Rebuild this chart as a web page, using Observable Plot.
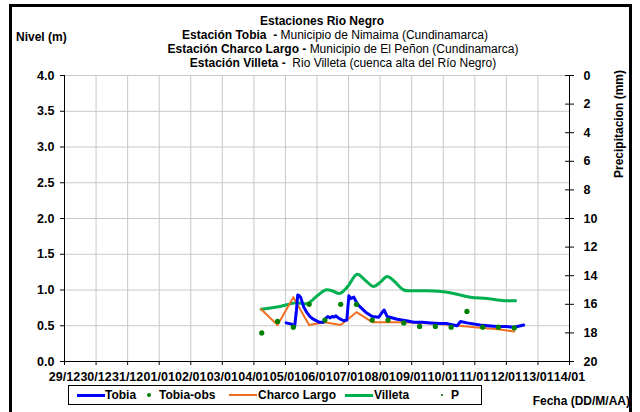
<!DOCTYPE html>
<html>
<head>
<meta charset="utf-8">
<script src="https://cdn.jsdelivr.net/npm/d3@7"></script>
<script src="https://cdn.jsdelivr.net/npm/@observablehq/plot@0.6"></script>
<style>
  html, body { margin: 0; padding: 0; background: #fff; overflow: hidden; }
  #wrap { position: relative; width: 640px; height: 412px; overflow: hidden; font-family: "Liberation Sans", Arial, sans-serif; color: #000; }
  #frame { position: absolute; left: 9px; top: 4px; width: 623px; height: 420px; border: 3px solid #000; box-sizing: border-box; pointer-events: none; }
  .t { position: absolute; white-space: nowrap; font-size: 12px; line-height: 14px; }
  .b { font-weight: bold; }
  #chart { position: absolute; left: 0; top: 0; }
  #legend { position: absolute; left: 68px; top: 385px; width: 414px; height: 20px; border: 1px solid #000; box-sizing: border-box; background: #fff; }
  .li { position: absolute; top: 2px; font-size: 12px; font-weight: bold; line-height: 14px; white-space: nowrap; }
  .ln { position: absolute; top: 8px; width: 28px; height: 3px; }
  .dot { position: absolute; border-radius: 50%; background: #008000; }
</style>
</head>
<body>
<div id="wrap">
  <div id="chart"></div>
  <div class="t b" style="left:0;width:644px;text-align:center;top:14px;">Estaciones Rio Negro</div>
  <div class="t" style="left:0;width:670px;text-align:center;top:28px;"><span class="b">Estación Tobia&nbsp; - </span>Municipio de Nimaima (Cundinamarca)</div>
  <div class="t" style="left:0;width:686px;text-align:center;top:42px;"><span class="b">Estación Charco Largo - </span>Municipio de El Peñon (Cundinamarca)</div>
  <div class="t" style="left:0;width:686px;text-align:center;top:56px;"><span class="b">Estación Villeta - </span>&nbsp;Rio Villeta (cuenca alta del Río Negro)</div>
  <div class="t b" style="left:16px;top:30px;">Nivel (m)</div>
  <div class="t b" style="right:10px;top:394px;">Fecha (DD/M/AA)</div>
  <div class="t b" style="left:619px;top:124px;transform:translate(-50%,-50%) rotate(-90deg);">Precipitacion (mm)</div>
  <div id="legend">
    <div class="ln" style="left:8px;background:#0000ff;"></div>
    <div class="li" style="left:36px;">Tobia</div>
    <div class="dot" style="left:78px;top:7px;width:4px;height:4px;"></div>
    <div class="li" style="left:90px;">Tobia-obs</div>
    <div class="ln" style="left:160px;background:#f07020;height:2px;"></div>
    <div class="li" style="left:189px;">Charco Largo</div>
    <div class="ln" style="left:276px;background:#00b050;"></div>
    <div class="li" style="left:305px;">Villeta</div>
    <div class="dot" style="left:372px;top:8px;width:2px;height:2px;background:#006000;"></div>
    <div class="li" style="left:382px;">P</div>
  </div>
  <div id="frame"></div>
</div>
<script>
// ---------------- data ----------------
const tobiaTime = ["2012-01-05T00:30","2012-01-05T03:00","2012-01-05T05:00","2012-01-05T07:00","2012-01-05T08:20","2012-01-05T09:20","2012-01-05T10:30","2012-01-05T11:30","2012-01-05T14:00","2012-01-05T16:30","2012-01-05T18:30","2012-01-05T20:30","2012-01-06T01:30","2012-01-06T05:00","2012-01-06T06:30","2012-01-06T08:10","2012-01-06T10:00","2012-01-06T11:30","2012-01-06T13:00","2012-01-06T14:10","2012-01-06T17:00","2012-01-06T20:20","2012-01-06T22:40","2012-01-07T00:15","2012-01-07T01:30","2012-01-07T02:40","2012-01-07T04:00","2012-01-07T06:30","2012-01-07T09:00","2012-01-07T13:00","2012-01-07T18:00","2012-01-07T23:00","2012-01-08T01:40","2012-01-08T03:00","2012-01-08T05:20","2012-01-08T13:00","2012-01-08T20:00","2012-01-09T01:40","2012-01-09T08:00","2012-01-09T14:30","2012-01-09T21:00","2012-01-10T03:00","2012-01-10T10:30","2012-01-10T13:10","2012-01-10T18:00","2012-01-11T04:00","2012-01-11T10:00","2012-01-11T17:00","2012-01-11T23:00","2012-01-12T05:45","2012-01-12T10:50","2012-01-12T13:10"];
const tobiaLevel = [0.54,0.53,0.52,0.49,0.71,0.93,0.92,0.90,0.76,0.68,0.63,0.60,0.55,0.55,0.60,0.63,0.61,0.63,0.62,0.64,0.60,0.57,0.58,0.92,0.88,0.89,0.90,0.81,0.76,0.69,0.63,0.62,0.69,0.72,0.63,0.59,0.57,0.55,0.55,0.54,0.53,0.53,0.50,0.56,0.54,0.51,0.50,0.49,0.49,0.48,0.50,0.51];

const obsTime = ["2012-01-04T06:00","2012-01-04T18:00","2012-01-05T06:00","2012-01-05T18:00","2012-01-06T06:00","2012-01-06T18:00","2012-01-07T06:00","2012-01-07T18:00","2012-01-08T06:00","2012-01-08T18:00","2012-01-09T06:00","2012-01-09T18:00","2012-01-10T06:00","2012-01-10T18:00","2012-01-11T06:00","2012-01-11T18:00","2012-01-12T06:00"];
const obsLevel = [0.40,0.56,0.48,0.80,0.58,0.80,0.80,0.58,0.58,0.54,0.49,0.49,0.48,0.70,0.48,0.48,0.47];

const charcoTime = ["2012-01-04T05:30","2012-01-04T18:00","2012-01-05T06:00","2012-01-05T18:00","2012-01-06T06:00","2012-01-06T18:00","2012-01-07T06:00","2012-01-07T18:00","2012-01-08T06:00","2012-01-08T18:00","2012-01-09T06:00","2012-01-09T18:00","2012-01-10T06:00","2012-01-10T18:00","2012-01-11T06:00","2012-01-11T18:00","2012-01-12T06:00"];
const charcoLevel = [0.73,0.51,0.90,0.51,0.55,0.51,0.69,0.55,0.55,0.55,0.54,0.53,0.51,0.49,0.47,0.45,0.42];

const villetaTime = ["2012-01-04T05:30","2012-01-04T20:00","2012-01-05T07:40","2012-01-05T16:30","2012-01-06T00:15","2012-01-06T06:30","2012-01-06T11:30","2012-01-06T17:15","2012-01-06T23:00","2012-01-07T06:30","2012-01-07T13:00","2012-01-07T18:45","2012-01-08T00:15","2012-01-08T05:15","2012-01-08T10:20","2012-01-08T18:00","2012-01-09T01:40","2012-01-09T11:45","2012-01-10T03:00","2012-01-10T10:30","2012-01-10T20:40","2012-01-11T09:20","2012-01-11T22:00","2012-01-12T07:00"];
const villetaLevel = [0.73,0.77,0.82,0.81,0.92,1.00,0.99,0.95,1.04,1.22,1.13,1.05,1.11,1.19,1.13,1.00,0.99,0.99,0.97,0.94,0.90,0.88,0.85,0.85];

const precipTime = [];   // no precipitation recorded in the period
const precipMM = [];

const dayTicks = ["2011-12-29","2011-12-30","2011-12-31","2012-01-01","2012-01-02","2012-01-03","2012-01-04","2012-01-05","2012-01-06","2012-01-07","2012-01-08","2012-01-09","2012-01-10","2012-01-11","2012-01-12","2012-01-13","2012-01-14"];
const levelTicks = [0, 0.5, 1.0, 1.5, 2.0, 2.5, 3.0, 3.5, 4.0];
const precipTicks = [0, 2, 4, 6, 8, 10, 12, 14, 16, 18, 20];

// ---------------- build ----------------
const P = s => new Date(s + (s.length > 10 ? ":00Z" : "T00:00:00Z"));
const tobia = tobiaTime.map((t, i) => ({t: P(t), v: tobiaLevel[i]}));
const obs = obsTime.map((t, i) => ({t: P(t), v: obsLevel[i]}));
const charco = charcoTime.map((t, i) => ({t: P(t), v: charcoLevel[i]}));
const villeta = villetaTime.map((t, i) => ({t: P(t), v: villetaLevel[i]}));
const precip = precipTime.map((t, i) => ({t: P(t), v: 4 - precipMM[i] / 5}));
const xTicks = dayTicks.map(P);
const x0 = xTicks[0], x1 = xTicks[xTicks.length - 1];
const pTickPos = precipTicks.map(p => 4 - p / 5);
const grid = "#c8c8c8";

const chart = Plot.plot({
  width: 640,
  height: 412,
  marginLeft: 64,
  marginRight: 71,
  marginTop: 75,
  marginBottom: 51,
  style: {fontFamily: "Liberation Sans, Arial, sans-serif", fontSize: "12.5px", fontWeight: "bold", background: "transparent", color: "#000", overflow: "visible"},
  x: {type: "utc", domain: [x0, x1]},
  y: {domain: [0, 4]},
  marks: [
    Plot.ruleX(xTicks, {stroke: grid, strokeWidth: 1}),
    Plot.ruleY(levelTicks, {stroke: grid, strokeWidth: 1}),
    Plot.ruleX([x0, x1], {stroke: "#000", strokeWidth: 1}),
    Plot.ruleY([0], {stroke: "#000", strokeWidth: 1}),
    Plot.axisX({ticks: xTicks, tickFormat: d3.utcFormat("%d/%m"), tickSize: 4, tickPadding: 7, label: null}),
    Plot.axisY({anchor: "left", ticks: levelTicks, tickFormat: d3.format(".1f"), tickSize: 4, tickPadding: 6, label: null}),
    Plot.axisY({anchor: "right", ticks: pTickPos, tickFormat: d => String(Math.round((4 - d) * 5)), tickSize: 4, tickPadding: 10, label: null}),
    Plot.ruleY(pTickPos, {x1: new Date(+x1 - 3 * 3600e3), x2: x1, stroke: "#000"}),
    Plot.line(villeta, {x: "t", y: "v", stroke: "#00b050", strokeWidth: 3, curve: "catmull-rom"}),
    Plot.line(charco, {x: "t", y: "v", stroke: "#f07020", strokeWidth: 2}),
    Plot.line(tobia, {x: "t", y: "v", stroke: "#0000ff", strokeWidth: 3, strokeLinejoin: "round"}),
    Plot.dot(obs, {x: "t", y: "v", r: 2.6, fill: "#008000", stroke: "none"}),
    Plot.dot(precip, {x: "t", y: "v", r: 1.2, fill: "#006000"})
  ]
});
document.getElementById("chart").appendChild(chart);
</script>
</body>
</html>
